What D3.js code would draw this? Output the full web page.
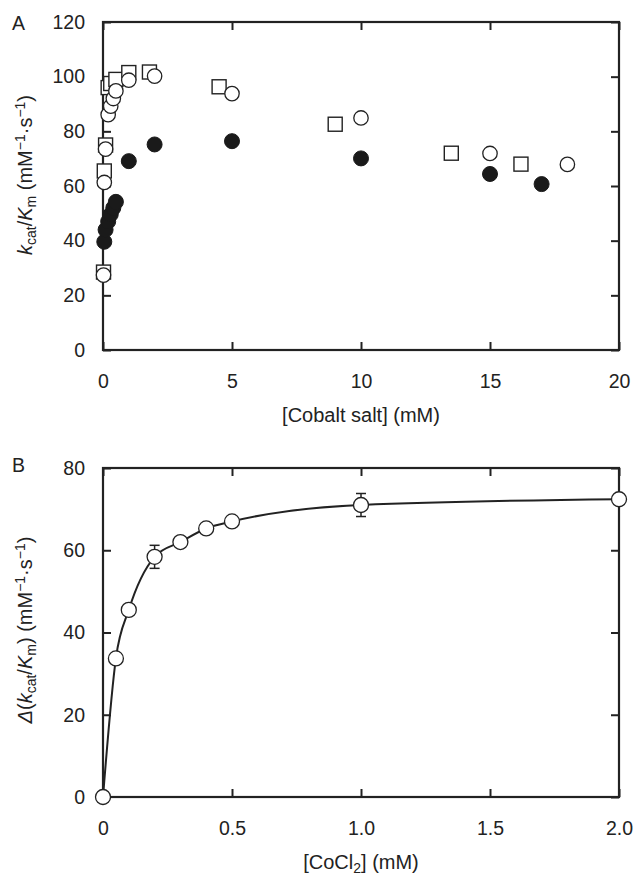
<!DOCTYPE html>
<html><head><meta charset="utf-8">
<script src="https://cdn.jsdelivr.net/npm/d3@7"></script>
<style>
body{margin:0;background:#fff;}
text{font-family:"Liberation Sans",Arial,Helvetica,sans-serif;fill:#222;}
</style></head>
<body><svg id="c" width="635" height="876"></svg>
<script>
// ---- Panel A data ----
const squareX = [0.02, 0.05, 0.1, 0.2, 0.3, 0.5, 1, 1.8, 4.5, 9, 13.5, 16.2];
const squareY = [28.5, 65.5, 75, 96, 97.5, 99, 101.5, 101.7, 96.3, 82.6, 72, 68];
const openX = [0.02, 0.05, 0.1, 0.2, 0.3, 0.4, 0.5, 1, 2, 5, 10, 15, 18];
const openY = [27.4, 61.3, 73.5, 86.1, 89.2, 92, 94.8, 98.7, 100.2, 93.8, 84.9, 71.9, 67.9];
const filledX = [0.05, 0.1, 0.2, 0.3, 0.4, 0.5, 1, 2, 5, 10, 15, 17];
const filledY = [39.6, 44, 47, 49.6, 52, 54.2, 69.1, 75.2, 76.4, 70.1, 64.4, 60.7];
const aXTicks = [0, 5, 10, 15, 20];
const aYTicks = [0, 20, 40, 60, 80, 100, 120];
// ---- Panel B data ----
const coclX = [0, 0.05, 0.1, 0.2, 0.3, 0.4, 0.5, 1.0, 2.0];
const deltaY = [0, 33.7, 45.5, 58.4, 62, 65.3, 67, 71, 72.4];
const deltaErr = [0, 1.2, 1, 2.8, 1, 1, 1, 2.8, 1];
const bXTicks = [0, 0.5, 1.0, 1.5, 2.0];
const bXLabels = ["0", "0.5", "1.0", "1.5", "2.0"];
const bYTicks = [0, 20, 40, 60, 80];

const svg = d3.select("#c");
const L = 103, R = 619;
const FS = 19.5;

function frame(g, x, y, xt, yt, xfmt, top, bottom) {
  const tick = 8;
  g.append("g").attr("transform", `translate(0,${bottom})`)
    .call(d3.axisBottom(x).tickValues(xt).tickFormat(xfmt).tickSizeInner(-tick).tickSizeOuter(0).tickPadding(24))
    .call(a => a.select(".domain").remove());
  g.append("g").attr("transform", `translate(0,${top})`)
    .call(d3.axisTop(x).tickValues(xt).tickFormat("").tickSizeInner(-tick).tickSizeOuter(0))
    .call(a => a.select(".domain").remove());
  g.append("g").attr("transform", `translate(${L},0)`)
    .call(d3.axisLeft(y).tickValues(yt).tickFormat(d3.format("d")).tickSizeInner(-tick).tickSizeOuter(0).tickPadding(18))
    .call(a => a.select(".domain").remove());
  g.append("g").attr("transform", `translate(${R},0)`)
    .call(d3.axisRight(y).tickValues(yt).tickFormat("").tickSizeInner(-tick).tickSizeOuter(0))
    .call(a => a.select(".domain").remove());
  g.selectAll(".tick line").attr("stroke", "#222").attr("stroke-width", 2);
  g.selectAll(".tick text").attr("font-size", FS).attr("fill", "#222")
    .attr("font-family", '"Liberation Sans",Arial,sans-serif');
  g.append("rect").attr("x", L).attr("y", top).attr("width", R - L).attr("height", bottom - top)
    .attr("fill", "none").attr("stroke", "#222").attr("stroke-width", 2.2);
}

// ---------- Panel A ----------
const aTop = 22, aBot = 350;
const xA = d3.scaleLinear().domain([0, 20]).range([L, R]);
const yA = d3.scaleLinear().domain([0, 120]).range([aBot, aTop]);
const gA = svg.append("g");
frame(gA, xA, yA, aXTicks, aYTicks, d3.format("d"), aTop, aBot);

const sq = 14;
gA.append("g").selectAll("rect").data(squareX.map((d, i) => [d, squareY[i]])).join("rect")
  .attr("x", d => xA(d[0]) - sq / 2).attr("y", d => yA(d[1]) - sq / 2)
  .attr("width", sq).attr("height", sq)
  .attr("fill", "#fff").attr("stroke", "#222").attr("stroke-width", 1.4);
gA.append("g").selectAll("circle").data(openX.map((d, i) => [d, openY[i]])).join("circle")
  .attr("cx", d => xA(d[0])).attr("cy", d => yA(d[1])).attr("r", 7.2)
  .attr("fill", "#fff").attr("stroke", "#222").attr("stroke-width", 1.3);
gA.append("g").selectAll("circle").data(filledX.map((d, i) => [d, filledY[i]])).join("circle")
  .attr("cx", d => xA(d[0])).attr("cy", d => yA(d[1])).attr("r", 7.5)
  .attr("fill", "#1a1a1a").attr("stroke", "#1a1a1a").attr("stroke-width", 1);

svg.append("text").attr("x", 12).attr("y", 30).attr("font-size", FS).text("A");
svg.append("text").attr("x", (L + R) / 2).attr("y", 422).attr("text-anchor", "middle")
  .attr("font-size", 20).text("[Cobalt salt] (mM)");

function yLabel(cx, cy, parts) {
  const t = svg.append("text").attr("transform", `translate(${cx},${cy}) rotate(-90)`)
    .attr("text-anchor", "middle").attr("font-size", 20);
  parts.forEach(p => {
    const s = t.append("tspan").text(p.t);
    if (p.i) s.attr("font-style", "italic");
    if (p.sub) s.attr("font-size", 14).attr("baseline-shift", "-4");
    if (p.sup) s.attr("font-size", 14).attr("baseline-shift", "7");
  });
}
yLabel(32, 175, [
  {t: "k", i: 1}, {t: "cat", sub: 1}, {t: "/"}, {t: "K", i: 1}, {t: "m", sub: 1},
  {t: " (mM"}, {t: "−1", sup: 1}, {t: "·s"}, {t: "−1", sup: 1}, {t: ")"}
]);

// ---------- Panel B ----------
const bTop = 468, bBot = 797;
const xB = d3.scaleLinear().domain([0, 2]).range([L, R]);
const yB = d3.scaleLinear().domain([0, 80]).range([bBot, bTop]);
const gB = svg.append("g");
frame(gB, xB, yB, bXTicks, bYTicks, (d, i) => bXLabels[i], bTop, bBot);

const line = d3.line().x((d, i) => xB(coclX[i])).y(d => yB(d)).curve(d3.curveMonotoneX);
gB.append("path").attr("d", line(deltaY)).attr("fill", "none").attr("stroke", "#222").attr("stroke-width", 2);

const pts = coclX.map((d, i) => ({x: d, y: deltaY[i], e: deltaErr[i]}));
const eb = gB.append("g").attr("stroke", "#222").attr("stroke-width", 1.5);
pts.forEach(p => {
  if (!p.e) return;
  const cx = xB(p.x);
  eb.append("line").attr("x1", cx).attr("x2", cx).attr("y1", yB(p.y - p.e)).attr("y2", yB(p.y + p.e));
  [p.y - p.e, p.y + p.e].forEach(v => eb.append("line").attr("x1", cx - 5).attr("x2", cx + 5).attr("y1", yB(v)).attr("y2", yB(v)));
});
gB.append("g").selectAll("circle").data(pts).join("circle")
  .attr("cx", d => xB(d.x)).attr("cy", d => yB(d.y)).attr("r", 7.5)
  .attr("fill", "#fff").attr("stroke", "#222").attr("stroke-width", 1.3);

svg.append("text").attr("x", 12).attr("y", 472).attr("font-size", FS).text("B");
const xt = svg.append("text").attr("x", (L + R) / 2).attr("y", 869).attr("text-anchor", "middle").attr("font-size", 20);
xt.append("tspan").text("[CoCl");
xt.append("tspan").text("2").attr("font-size", 14).attr("baseline-shift", "-4");
xt.append("tspan").text("] (mM)");

yLabel(32, 630, [
  {t: "Δ", i: 1}, {t: "("}, {t: "k", i: 1}, {t: "cat", sub: 1}, {t: "/"}, {t: "K", i: 1}, {t: "m", sub: 1},
  {t: ") (mM"}, {t: "−1", sup: 1}, {t: "·s"}, {t: "−1", sup: 1}, {t: ")"}
]);
</script></body></html>
